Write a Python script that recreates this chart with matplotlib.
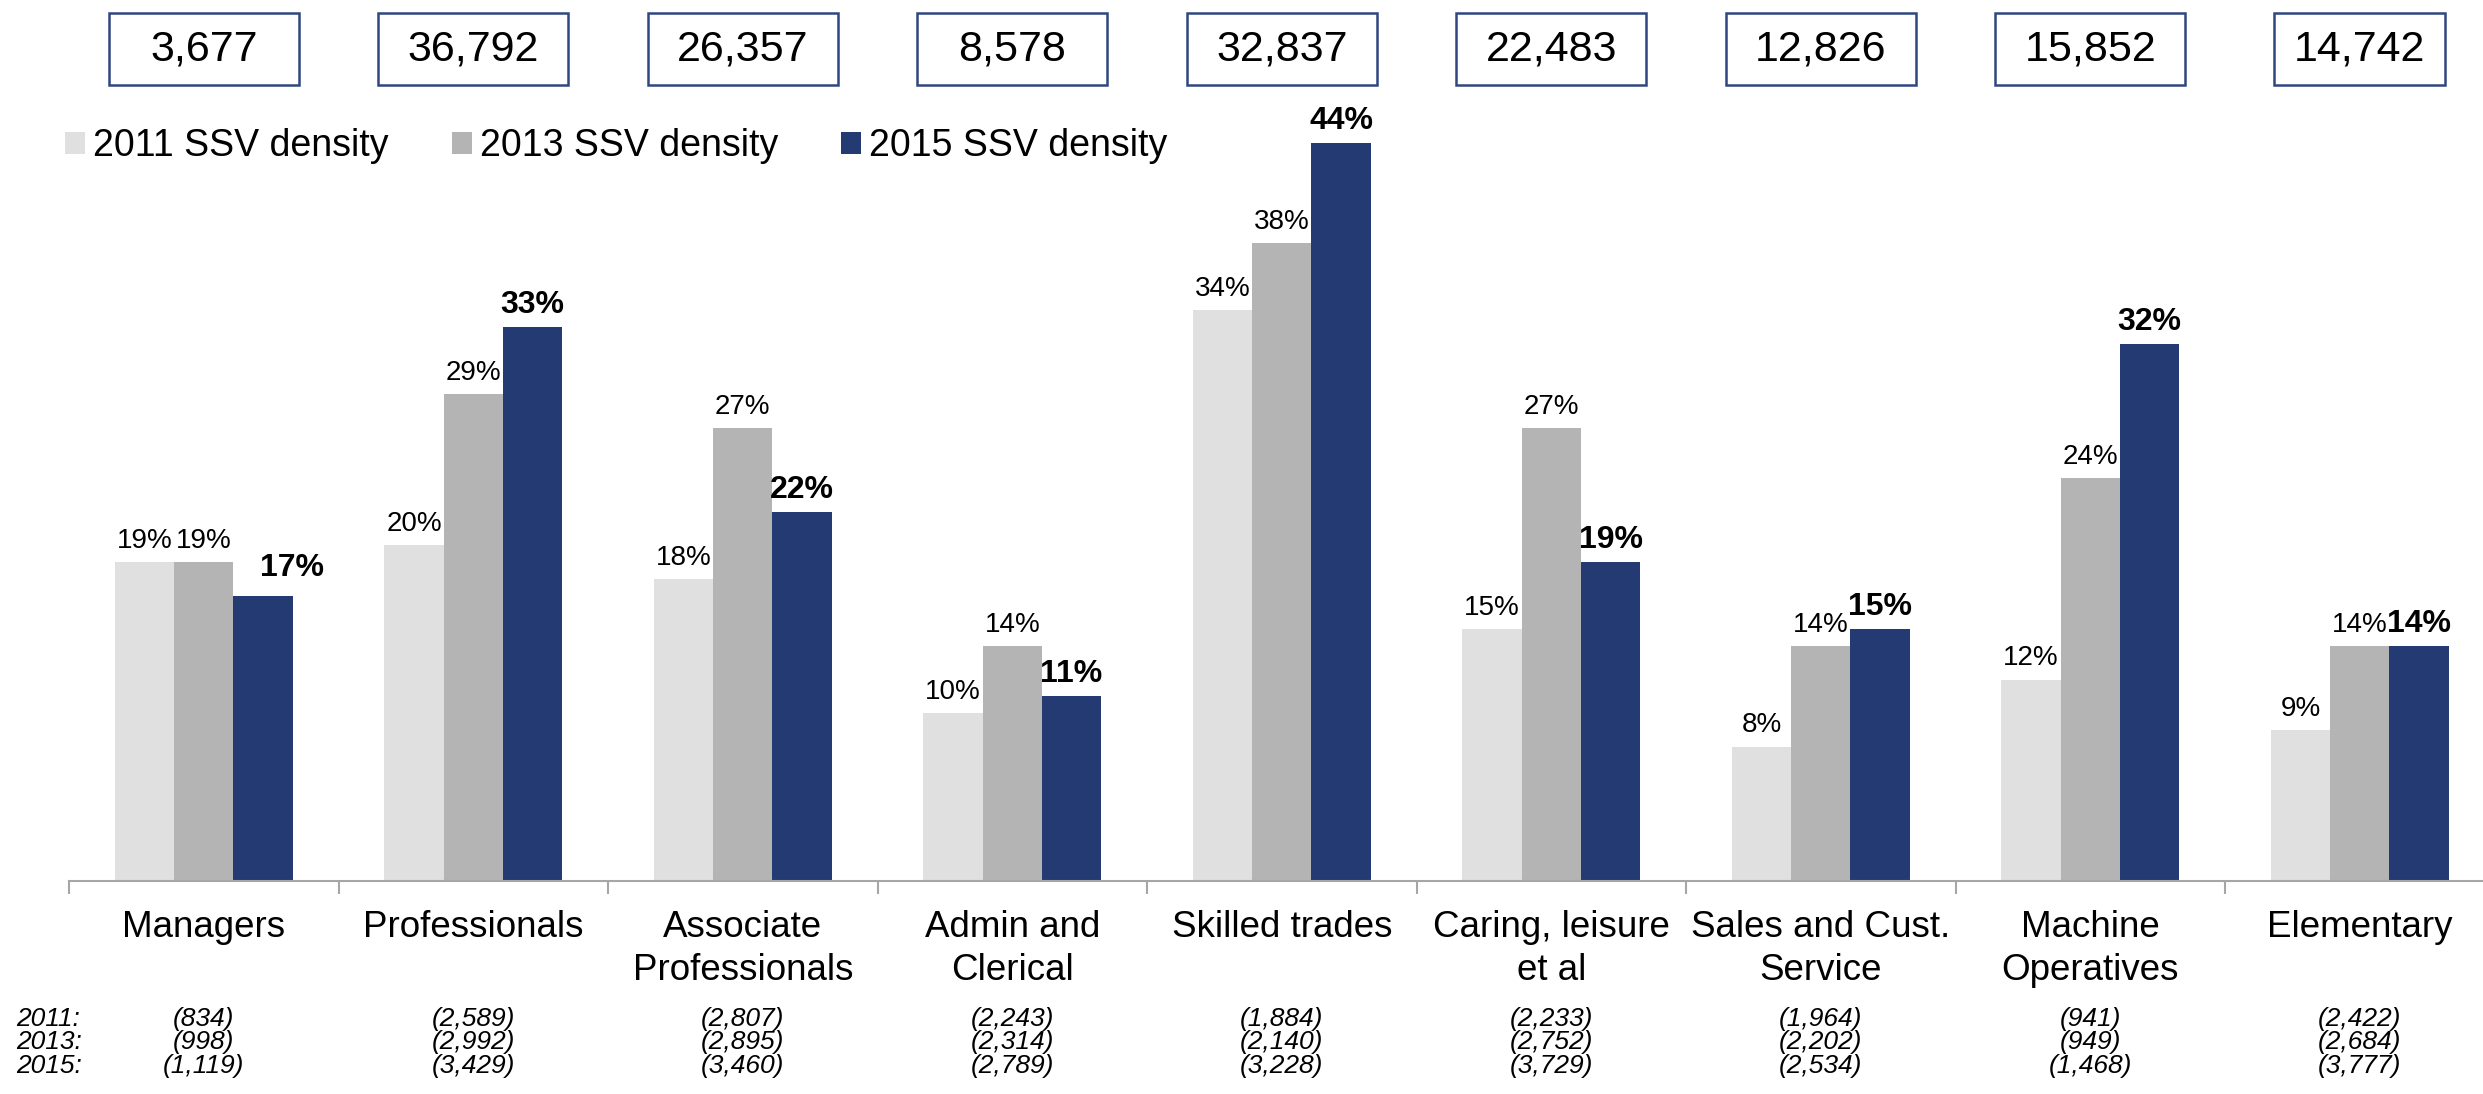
import matplotlib
matplotlib.use("Agg")
import matplotlib.pyplot as plt
import matplotlib.transforms as mtransforms
from matplotlib.patches import Rectangle
import numpy as np

plt.rcParams["font.family"] = ["Liberation Sans", "DejaVu Sans"]

# ---- data
categories = ["Managers", "Professionals", "Associate\nProfessionals", "Admin and\nClerical",
              "Skilled trades", "Caring, leisure\net al", "Sales and Cust.\nService",
              "Machine\nOperatives", "Elementary"]
totals = ["3,677", "36,792", "26,357", "8,578", "32,837", "22,483", "12,826", "15,852", "14,742"]
density_2011 = [19, 20, 18, 10, 34, 15, 8, 12, 9]
density_2013 = [19, 29, 27, 14, 38, 27, 14, 24, 14]
density_2015 = [17, 33, 22, 11, 44, 19, 15, 32, 14]
count_years = ["2011:", "2013:", "2015:"]
counts_2011 = ["(834)", "(2,589)", "(2,807)", "(2,243)", "(1,884)", "(2,233)", "(1,964)", "(941)", "(2,422)"]
counts_2013 = ["(998)", "(2,992)", "(2,895)", "(2,314)", "(2,140)", "(2,752)", "(2,202)", "(949)", "(2,684)"]
counts_2015 = ["(1,119)", "(3,429)", "(3,460)", "(2,789)", "(3,228)", "(3,729)", "(2,534)", "(1,468)", "(3,777)"]
series_labels = ["2011 SSV density", "2013 SSV density", "2015 SSV density"]

C11, C13, C15, BOX = "#E0E0E0", "#B4B4B4", "#243A73", "#2E4780"
AXIS_GREY = "#A6A6A6"

W, H = 2483, 1094
fig = plt.figure(figsize=(W / 100, H / 100), dpi=100)
ax = fig.add_axes([69 / W, (H - 881) / H, 2425.5 / W, 839 / H])

x = np.arange(len(categories))
w = 0.22
b11 = ax.bar(x - w, density_2011, w, color=C11, label=series_labels[0])
b13 = ax.bar(x, density_2013, w, color=C13, label=series_labels[1])
b15 = ax.bar(x + w, density_2015, w, color=C15, label=series_labels[2])

for bars in (b11, b13):
    for r in bars:
        ax.annotate(f"{r.get_height():.0f}%", (r.get_x() + r.get_width() / 2, r.get_height()),
                    xytext=(0, 6), textcoords="offset points", ha="center", va="bottom",
                    fontsize=20)
for i, r in enumerate(b15):
    dx, dy = (21, 9) if i == 0 else (0, 5)  # Managers label nudged right in the original
    ax.annotate(f"{r.get_height():.0f}%", (r.get_x() + r.get_width() / 2, r.get_height()),
                xytext=(dx, dy), textcoords="offset points", ha="center", va="bottom",
                fontsize=23, fontweight="bold")

ax.set_xlim(-0.5, len(categories) - 0.5)
ax.set_ylim(0, 50)
for s in ("top", "right", "left"):
    ax.spines[s].set_visible(False)
ax.spines["bottom"].set_color(AXIS_GREY)
ax.spines["bottom"].set_linewidth(1.5)
ax.set_yticks([])
ax.set_xticks(x)
ax.set_xticklabels(categories, fontsize=26.5, linespacing=1.3)
ax.tick_params(axis="x", which="major", length=0, pad=21)
ax.set_xticks(np.arange(len(categories) + 1) - 0.5, minor=True)
ax.tick_params(axis="x", which="minor", length=9, width=1.5, color=AXIS_GREY)

# totals boxes along the top
trans = mtransforms.blended_transform_factory(ax.transData, fig.transFigure)
box_h = 72 / H
box_y = 1 - 85 / H
for i, t in enumerate(totals):
    bw = 0.635 if i == len(totals) - 1 else 0.705
    ax.add_patch(Rectangle((i - bw / 2, box_y), bw, box_h, transform=trans, fill=False,
                           edgecolor=BOX, linewidth=1.8, clip_on=False))
    ax.text(i, box_y + box_h / 2, t, transform=trans, ha="center", va="center",
            fontsize=31, clip_on=False)

# sample counts under the categories
count_top = 1 - 1007 / H
fig.text(16 / W, count_top, "\n".join(count_years), ha="left", va="top",
         fontsize=19, style="italic", linespacing=0.97)
for i in range(len(categories)):
    ax.text(i, count_top, "\n".join([counts_2011[i], counts_2013[i], counts_2015[i]]),
            transform=trans, ha="center", va="top", multialignment="center",
            fontsize=19, style="italic", linespacing=0.97)

ax.legend(loc="center left", bbox_to_anchor=(65 / W, 1 - 146 / H), bbox_transform=fig.transFigure,
          ncol=3, frameon=False, fontsize=27, handlelength=0.53, handleheight=0.53,
          handletextpad=0.22, columnspacing=1.68, borderpad=0, borderaxespad=0)

fig.savefig("out.png", dpi=100)
